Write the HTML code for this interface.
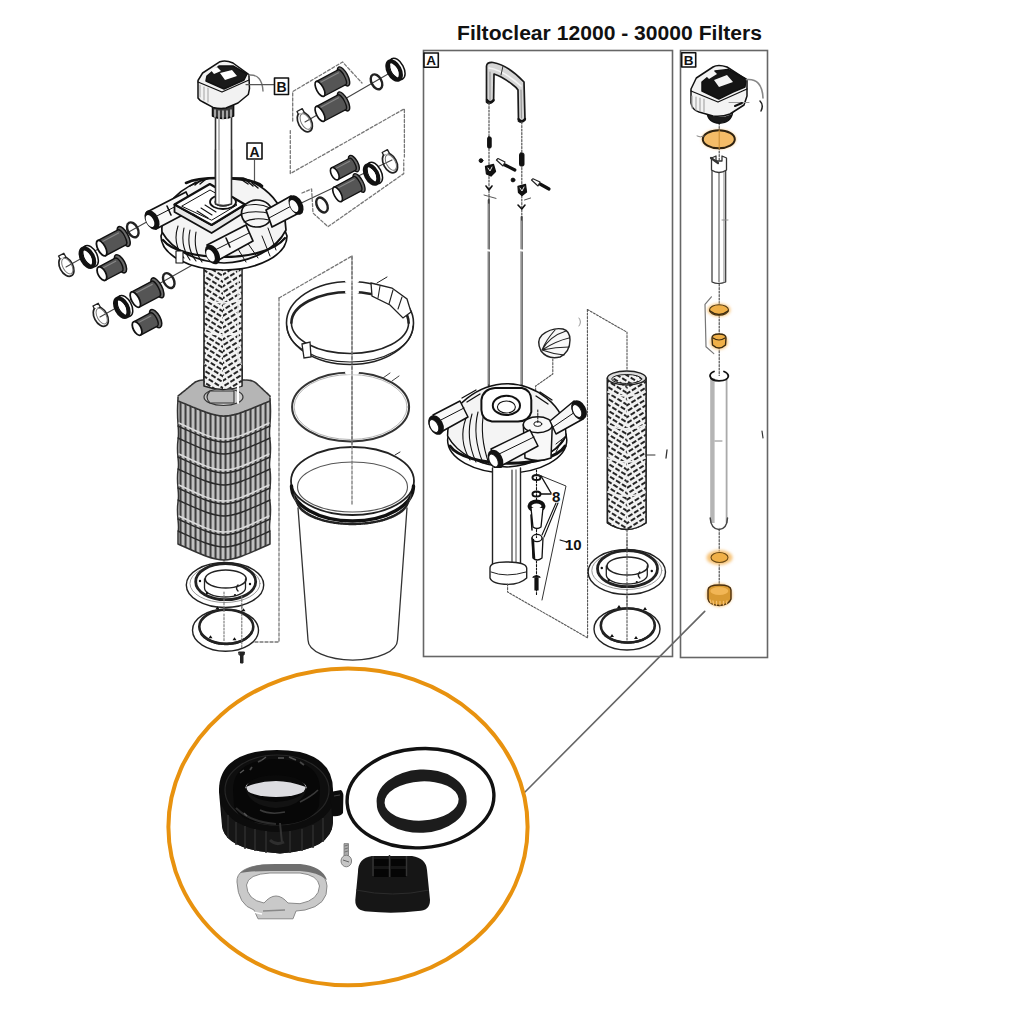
<!DOCTYPE html>
<html><head><meta charset="utf-8">
<style>
html,body{margin:0;padding:0;background:#fff;width:1024px;height:1024px;overflow:hidden}
svg{display:block;position:absolute;left:0;top:0}
.t{font-family:"Liberation Sans",sans-serif}
</style></head>
<body>
<svg width="1024" height="1024" viewBox="0 0 1024 1024">
<defs>
  <pattern id="perf" width="7" height="5" patternUnits="userSpaceOnUse" patternTransform="rotate(32)">
    <rect width="7" height="5" fill="#f2f2f2"/>
    <rect x="0" y="0" width="5" height="2" fill="#262626"/>
  </pattern>
  <pattern id="perfR" width="7" height="5" patternUnits="userSpaceOnUse" patternTransform="rotate(-32)">
    <rect width="7" height="5" fill="#f2f2f2"/>
    <rect x="0" y="0" width="5" height="2" fill="#262626"/>
  </pattern>
  <pattern id="rib" width="5" height="10" patternUnits="userSpaceOnUse">
    <rect width="5" height="10" fill="#828282"/>
    <rect x="0" width="1.1" height="10" fill="#3f3f3f"/>
    <rect x="2.2" width="1.6" height="10" fill="#cfcfcf"/>
  </pattern>
</defs>
<rect width="1024" height="1024" fill="#fff"/>
<text class="t" x="457" y="40" font-size="20" font-weight="bold" fill="#111" textLength="305" lengthAdjust="spacingAndGlyphs">Filtoclear 12000 - 30000 Filters</text>
<rect x="423.5" y="50.5" width="249" height="606" fill="none" stroke="#666" stroke-width="1.6"/>
<rect x="680.5" y="50.5" width="87" height="607" fill="none" stroke="#666" stroke-width="1.6"/>
<g id="left" stroke-linejoin="round" stroke-linecap="round">
<g fill="none" stroke="#777" stroke-width="1.3" stroke-dasharray="3,2">
  <polyline points="279,298 352,256 352,450"/>
  <polyline points="279,298 279,642 223,642"/>
  <polyline points="292.7,121 292.7,91.6 342.6,62 362,83"/>
  <polyline points="290.3,130.6 290.3,173.6 404.4,108.75 404.4,157"/>
  <polyline points="302,193 311.6,189 313,213 328,226.7 403.75,173.6 403.75,160"/>
  <line x1="224" y1="418" x2="224" y2="640"/>
  <line x1="241.8" y1="570" x2="241.8" y2="650"/>
</g>
<g stroke="#444" stroke-width="1.1" fill="none">
<line x1="66" y1="267" x2="152" y2="219"/>
<line x1="100" y1="317" x2="212" y2="254"/>
<line x1="305" y1="122" x2="395" y2="70"/>
<line x1="295" y1="206" x2="392" y2="160"/>
</g>
<g transform="translate(66.4,266.6) rotate(-28)"><ellipse rx="6.5" ry="10.5" fill="none" stroke="#222" stroke-width="1.7"/><ellipse cx="1" rx="4.5" ry="8.5" fill="none" stroke="#777" stroke-width="1"/><path d="M-2,-10 L-2,-13 L4,-13 L4,-9" fill="#fff" stroke="#222" stroke-width="1.3"/></g>
<g transform="translate(88.3,257.2) rotate(-28)"><ellipse cx="2.5" rx="6.5" ry="11.5" fill="#fff" stroke="#111" stroke-width="1.5"/><path d="M3,-11 L-1,-11" stroke="#111" stroke-width="1.2"/><ellipse cx="-1" rx="5.5" ry="10" fill="none" stroke="#111" stroke-width="4.2"/><ellipse cx="-0.5" rx="3" ry="6" fill="#fff" stroke="none"/></g>
<g transform="translate(114,241.6) rotate(-28)"><ellipse cx="11.0" cy="0" rx="4.5" ry="11.0" fill="#6a6a6a" stroke="#111" stroke-width="1.5"/><path d="M-14.0,-8.5 L9.0,-8.5 A3,8.5 0 0 1 9.0,8.5 L-14.0,8.5 Z" fill="#555" stroke="#111" stroke-width="1.4"/><line x1="-11.0" y1="-5.5" x2="8.0" y2="-5.5" stroke="#888" stroke-width="1.2"/><ellipse cx="-14.0" cy="0" rx="3.8" ry="8.5" fill="#fff" stroke="#111" stroke-width="1.8"/></g>
<g transform="translate(132.8,229.8) rotate(-28)"><ellipse rx="5" ry="8" fill="none" stroke="#222" stroke-width="2.4"/></g>
<g transform="translate(112.5,268) rotate(-28)"><ellipse cx="9.0" cy="0" rx="4.5" ry="10.0" fill="#6a6a6a" stroke="#111" stroke-width="1.5"/><path d="M-12.0,-7.5 L7.0,-7.5 A3,7.5 0 0 1 7.0,7.5 L-12.0,7.5 Z" fill="#555" stroke="#111" stroke-width="1.4"/><line x1="-9.0" y1="-4.5" x2="6.0" y2="-4.5" stroke="#888" stroke-width="1.2"/><ellipse cx="-12.0" cy="0" rx="3.8" ry="7.5" fill="#fff" stroke="#111" stroke-width="1.8"/></g>
<g transform="translate(100.8,316.6) rotate(-28)"><ellipse rx="6.5" ry="10.5" fill="none" stroke="#222" stroke-width="1.7"/><ellipse cx="1" rx="4.5" ry="8.5" fill="none" stroke="#777" stroke-width="1"/><path d="M-2,-10 L-2,-13 L4,-13 L4,-9" fill="#fff" stroke="#222" stroke-width="1.3"/></g>
<g transform="translate(122.7,307.2) rotate(-28)"><ellipse cx="2.5" rx="6.5" ry="11.5" fill="#fff" stroke="#111" stroke-width="1.5"/><path d="M3,-11 L-1,-11" stroke="#111" stroke-width="1.2"/><ellipse cx="-1" rx="5.5" ry="10" fill="none" stroke="#111" stroke-width="4.2"/><ellipse cx="-0.5" rx="3" ry="6" fill="#fff" stroke="none"/></g>
<g transform="translate(147.7,293) rotate(-28)"><ellipse cx="11.0" cy="0" rx="4.5" ry="11.0" fill="#6a6a6a" stroke="#111" stroke-width="1.5"/><path d="M-14.0,-8.5 L9.0,-8.5 A3,8.5 0 0 1 9.0,8.5 L-14.0,8.5 Z" fill="#555" stroke="#111" stroke-width="1.4"/><line x1="-11.0" y1="-5.5" x2="8.0" y2="-5.5" stroke="#888" stroke-width="1.2"/><ellipse cx="-14.0" cy="0" rx="3.8" ry="8.5" fill="#fff" stroke="#111" stroke-width="1.8"/></g>
<g transform="translate(168.75,280.6) rotate(-28)"><ellipse rx="5" ry="8" fill="none" stroke="#222" stroke-width="2.4"/></g>
<g transform="translate(147.7,322.8) rotate(-28)"><ellipse cx="9.0" cy="0" rx="4.5" ry="10.0" fill="#6a6a6a" stroke="#111" stroke-width="1.5"/><path d="M-12.0,-7.5 L7.0,-7.5 A3,7.5 0 0 1 7.0,7.5 L-12.0,7.5 Z" fill="#555" stroke="#111" stroke-width="1.4"/><line x1="-9.0" y1="-4.5" x2="6.0" y2="-4.5" stroke="#888" stroke-width="1.2"/><ellipse cx="-12.0" cy="0" rx="3.8" ry="7.5" fill="#fff" stroke="#111" stroke-width="1.8"/></g>
<g transform="translate(333,82) rotate(-28) scale(0.92)"><ellipse cx="13.0" cy="0" rx="4.5" ry="11.5" fill="#6a6a6a" stroke="#111" stroke-width="1.5"/><path d="M-16.0,-9.0 L11.0,-9.0 A3,9.0 0 0 1 11.0,9.0 L-16.0,9.0 Z" fill="#555" stroke="#111" stroke-width="1.4"/><line x1="-13.0" y1="-6.0" x2="10.0" y2="-6.0" stroke="#888" stroke-width="1.2"/><ellipse cx="-16.0" cy="0" rx="3.8" ry="9.0" fill="#fff" stroke="#111" stroke-width="1.8"/></g>
<g transform="translate(333,107) rotate(-28) scale(0.92)"><ellipse cx="13.0" cy="0" rx="4.5" ry="11.5" fill="#6a6a6a" stroke="#111" stroke-width="1.5"/><path d="M-16.0,-9.0 L11.0,-9.0 A3,9.0 0 0 1 11.0,9.0 L-16.0,9.0 Z" fill="#555" stroke="#111" stroke-width="1.4"/><line x1="-13.0" y1="-6.0" x2="10.0" y2="-6.0" stroke="#888" stroke-width="1.2"/><ellipse cx="-16.0" cy="0" rx="3.8" ry="9.0" fill="#fff" stroke="#111" stroke-width="1.8"/></g>
<g transform="translate(304.8,122) rotate(-28)"><ellipse rx="6.5" ry="10.5" fill="none" stroke="#222" stroke-width="1.7"/><ellipse cx="1" rx="4.5" ry="8.5" fill="none" stroke="#777" stroke-width="1"/><path d="M-2,-10 L-2,-13 L4,-13 L4,-9" fill="#fff" stroke="#222" stroke-width="1.3"/></g>
<g transform="translate(376.5,81.8) rotate(-28)"><ellipse rx="5" ry="8" fill="none" stroke="#222" stroke-width="2.4"/></g>
<g transform="translate(395,70) rotate(-28)"><ellipse cx="2.5" rx="6.5" ry="11.5" fill="#fff" stroke="#111" stroke-width="1.5"/><path d="M3,-11 L-1,-11" stroke="#111" stroke-width="1.2"/><ellipse cx="-1" rx="5.5" ry="10" fill="none" stroke="#111" stroke-width="4.2"/><ellipse cx="-0.5" rx="3" ry="6" fill="#fff" stroke="none"/></g>
<g transform="translate(322,205) rotate(-28)"><ellipse rx="5" ry="8" fill="none" stroke="#222" stroke-width="2.4"/></g>
<g transform="translate(349.5,188) rotate(-28) scale(0.9)"><ellipse cx="12.0" cy="0" rx="4.5" ry="11.5" fill="#6a6a6a" stroke="#111" stroke-width="1.5"/><path d="M-15.0,-9.0 L10.0,-9.0 A3,9.0 0 0 1 10.0,9.0 L-15.0,9.0 Z" fill="#555" stroke="#111" stroke-width="1.4"/><line x1="-12.0" y1="-6.0" x2="9.0" y2="-6.0" stroke="#888" stroke-width="1.2"/><ellipse cx="-15.0" cy="0" rx="3.8" ry="9.0" fill="#fff" stroke="#111" stroke-width="1.8"/></g>
<g transform="translate(345.5,168) rotate(-28) scale(0.9)"><ellipse cx="10.5" cy="0" rx="4.5" ry="10.0" fill="#6a6a6a" stroke="#111" stroke-width="1.5"/><path d="M-13.5,-7.5 L8.5,-7.5 A3,7.5 0 0 1 8.5,7.5 L-13.5,7.5 Z" fill="#555" stroke="#111" stroke-width="1.4"/><line x1="-10.5" y1="-4.5" x2="7.5" y2="-4.5" stroke="#888" stroke-width="1.2"/><ellipse cx="-13.5" cy="0" rx="3.8" ry="7.5" fill="#fff" stroke="#111" stroke-width="1.8"/></g>
<g transform="translate(372.5,174) rotate(-28)"><ellipse cx="2.5" rx="6.5" ry="11.5" fill="#fff" stroke="#111" stroke-width="1.5"/><path d="M3,-11 L-1,-11" stroke="#111" stroke-width="1.2"/><ellipse cx="-1" rx="5.5" ry="10" fill="none" stroke="#111" stroke-width="4.2"/><ellipse cx="-0.5" rx="3" ry="6" fill="#fff" stroke="none"/></g>
<g transform="translate(390,163) rotate(-28)"><ellipse rx="6.5" ry="10.5" fill="none" stroke="#222" stroke-width="1.7"/><ellipse cx="1" rx="4.5" ry="8.5" fill="none" stroke="#777" stroke-width="1"/><path d="M-2,-10 L-2,-13 L4,-13 L4,-9" fill="#fff" stroke="#222" stroke-width="1.3"/></g>  <!-- vertical pipe from head to lid -->
  <rect x="215.5" y="112" width="16" height="96" fill="#fff" stroke="#333" stroke-width="1.6"/>
  <line x1="219" y1="114" x2="219" y2="206" stroke="#aaa" stroke-width="1.2"/>
  <!-- head unit -->
  <g stroke="#111" stroke-width="1.5">
    <path d="M212.5,106 L212.5,116 Q222,121 233.6,116 L233.6,104 Z" fill="#3a3a3a"/>
    <path d="M215,110 L215,117 M219,111 L219,119 M223,111 L223,119.5 M227,111 L227,119 M231,110 L231,117" stroke="#ddd" stroke-width="1.3"/>
    <path d="M198,80.5 L198,98 Q200,101 203,102 L213,107.4 Q220,109 226,108 L238,103 L248.3,94.5 L249.5,88.7 L248.9,74.6 L233,63 Q226,60 220,61.7 L202.6,73 Z" fill="#f2f2f2"/>
    <path d="M207,76 L219,66 L233,66 L247,74 L244,80 L224,89 L206,81 Z" fill="#1a1a1a"/>
    <path d="M220,73 L232,70 L237,76 L225,80 Z M210.8,70 L217,67 L221,71 L214,74 Z" fill="#fff" stroke="none"/>
    <path d="M198,82 L222,92 L249,80" fill="none" stroke-width="1.3"/>
    <path d="M200,85 L200,97 M204,87 L204,100 M208,88 L208,102" stroke="#aaa" stroke-width="1.1"/>
    <path d="M249,75 Q262,74 263,91" fill="none" stroke="#777" stroke-width="1.4"/>
  </g>
  <line x1="246" y1="84.6" x2="274" y2="84.6" stroke="#555" stroke-width="1.2"/>
  <rect x="274.5" y="78" width="14" height="16.5" fill="#fff" stroke="#111" stroke-width="1.6"/>
  <text class="t" x="281.5" y="91.5" font-size="14" font-weight="bold" text-anchor="middle" fill="#111">B</text>
  <rect x="247" y="143" width="15" height="16" fill="#fff" stroke="#111" stroke-width="1.6"/>
  <text class="t" x="254.5" y="156.5" font-size="14" font-weight="bold" text-anchor="middle" fill="#111">A</text>
  <line x1="254.5" y1="160" x2="254.5" y2="192" stroke="#555" stroke-width="1.2"/>

  <!-- perforated column -->
  <rect x="204" y="266" width="38" height="124" fill="url(#perf)" stroke="#222" stroke-width="1.6"/>
  <rect x="223" y="267" width="18.2" height="122" fill="url(#perfR)"/>
  <g stroke="#f4f4f4" stroke-width="1.6" fill="none"><path d="M205,300 Q223,306 241,300"/><path d="M205,332 Q223,338 241,332"/><path d="M205,364 Q223,370 241,364"/></g>
  <line x1="238" y1="268" x2="238" y2="388" stroke="#eee" stroke-width="1.5"/>

  <!-- lid -->
  <g stroke="#111" stroke-width="1.7" stroke-linejoin="round">
    <path d="M161,236 A63,34 0 0 0 287,236 L284,228 A60,30 0 0 1 164,228 Z" fill="#fff"/>
    <path d="M162,232 C160,205 180,186 210,178 L243,178 C266,186 286,205 286,230 C276,250 250,262 224,263 C196,262 172,250 162,232 Z" fill="#f4f4f4"/>
    <path d="M163,240 C180,262 264,264 285,238" fill="none" stroke-width="2.2"/>
    <path d="M186,183 C200,176 250,176 262,186" fill="none" stroke-width="2.6"/>
    <path d="M190,186 L196,182 M195,185 L201,180 M200,184 L206,179 M242,180 L248,184 M247,181 L253,186 M252,183 L258,188" stroke-width="1.4"/>
    <path d="M178,226 Q172,244 184,258 M184,228 Q180,246 190,260 M190,230 Q186,248 196,261 M196,232 Q193,250 202,262" fill="none" stroke-width="1.1"/>
    <path d="M176,251 L183,251 L183,263 L176,263 Z" fill="#fff" stroke-width="1.1"/>
    <path d="M230,236 L246,262 M240,232 L258,258 M268,228 L276,250 M262,236 L270,256" fill="none" stroke-width="1"/>
    <!-- left pipe -->
    <path d="M147,212 L186,192 L194,209 L156,229 Z" fill="#f8f8f8"/>
    <line x1="151" y1="219" x2="190" y2="199" stroke-width="1"/>
    <line x1="167" y1="206" x2="171" y2="215" stroke-width="1.6"/>
    <ellipse cx="152" cy="220" rx="6.5" ry="10.5" fill="#111" stroke="none" transform="rotate(-28 152 220)"/>
    <ellipse cx="150" cy="221" rx="3.5" ry="6.5" fill="#fff" stroke="none" transform="rotate(-28 150 221)"/>
    <!-- platform block -->
    <path d="M174.5,204.5 L174.5,212 L211.6,233 L245,212 L245,204.5 L211.6,225 Z" fill="#e8e8e8" stroke-width="1.8"/>
    <path d="M174.5,204.5 L209.8,184 L245,204.5 L211.6,225 Z" fill="#fff" stroke-width="2.2"/>
    <path d="M182,206 L210,190 L237,205 L212,220 Z" fill="none" stroke-width="1"/>
    <path d="M193,214 L204,221 M197,211 L208,218 M201,208 L212,215 M205,205 L216,212" stroke-width="1.1"/>
    <ellipse cx="223" cy="202" rx="13" ry="7" fill="#fff" stroke-width="1.8"/>
    <ellipse cx="223" cy="202" rx="8" ry="4.2" fill="none" stroke-width="1.2"/>
    <!-- knob -->
    <ellipse cx="257" cy="213.5" rx="15.5" ry="13.5" fill="#f6f6f6" stroke-width="1.7"/>
    <path d="M270,208 C262,204 250,203 242,207 M271,214 C262,211 250,211 241.5,214 M269,220 C260,218 250,219 244,222" fill="none" stroke-width="1.1"/>
    <!-- right pipe -->
    <path d="M266,210 L291,196 L299,213 L272,227 Z" fill="#f8f8f8"/>
    <line x1="269" y1="218" x2="295" y2="204" stroke-width="1"/>
    <ellipse cx="296" cy="205" rx="6.5" ry="10.5" fill="#111" stroke="none" transform="rotate(-28 296 205)"/>
    <ellipse cx="294" cy="206" rx="3.5" ry="6.5" fill="#fff" stroke="none" transform="rotate(-28 294 206)"/>
    <!-- front pipe -->
    <path d="M207,245 L246,225 L253,241 L215,262 Z" fill="#f8f8f8"/>
    <line x1="211" y1="252" x2="249" y2="233" stroke-width="1"/>
    <line x1="226" y1="238" x2="230" y2="247" stroke-width="1.6"/>
    <ellipse cx="212.5" cy="254.5" rx="6.5" ry="10.5" fill="#111" stroke="none" transform="rotate(-28 212.5 254.5)"/>
    <ellipse cx="210.5" cy="255.5" rx="3.5" ry="6.5" fill="#fff" stroke="none" transform="rotate(-28 210.5 255.5)"/>
  </g>
  <!-- pipe into lid top -->
  <path d="M215.5,150 L215.5,204 Q223,207 231.5,204 L231.5,150" fill="#fff" stroke="#333" stroke-width="1.6"/>
  <line x1="219" y1="112" x2="219" y2="204" stroke="#aaa" stroke-width="1.2"/>

  <!-- sponge stack -->
  <path d="M178,400 C176,420 180,430 178,440 C176,455 180,462 178,470 C176,485 180,493 178,502 C176,516 180,524 178,533 L178,544 C198,553 212,560 224,560 C236,560 250,553 270,544 L270,533 C268,524 272,516 270,502 C268,493 272,485 270,470 C268,462 272,455 270,440 C268,430 272,420 270,400 C250,409 236,416 224,416 C212,416 198,409 178,400 Z" fill="url(#rib)" stroke="#333" stroke-width="1.5"/>
  <g fill="none" stroke="#dcdcdc" stroke-width="1.5"><path d="M179,423 C198,432 212,439 224,439 C236,439 250,432 269,423"/><path d="M179,454 C198,463 212,470 224,470 C236,470 250,463 269,454"/><path d="M179,485 C198,494 212,501 224,501 C236,501 250,494 269,485"/><path d="M179,516 C198,525 212,532 224,532 C236,532 250,525 269,516"/></g>
  <g fill="none" stroke="#2a2a2a" stroke-width="1.4"><path d="M178,426 C198,435 212,442 224,442 C236,442 250,435 270,426"/><path d="M178,438 C198,447 212,454 224,454 C236,454 250,447 270,438"/><path d="M178,457 C198,466 212,473 224,473 C236,473 250,466 270,457"/><path d="M178,469 C198,478 212,485 224,485 C236,485 250,478 270,469"/><path d="M178,488 C198,497 212,504 224,504 C236,504 250,497 270,488"/><path d="M178,500 C198,509 212,516 224,516 C236,516 250,509 270,500"/><path d="M178,519 C198,528 212,535 224,535 C236,535 250,528 270,519"/><path d="M178,531 C198,540 212,547 224,547 C236,547 250,540 270,531"/></g>
  <path d="M178,396 L194,383 Q198,380 204,380 L246,380 Q252,380 256,383 L270,396 L270,401 C250,409 236,416 224,416 C212,416 198,409 178,401 Z" fill="#b5b5b5" stroke="#333" stroke-width="1.6" stroke-dasharray="2.5,1"/>
  <ellipse cx="223.5" cy="397" rx="19.5" ry="8.5" fill="#c8c8c8" stroke="#333" stroke-width="1.2"/>
  <path d="M210,391 Q204,397 210,403 L234,403 L234,391 Z" fill="#bbb" stroke="#333" stroke-width="1.1"/>
  <path d="M204,366 L204,386 Q223,393 242,386 L242,366" fill="url(#perf)" stroke="#222" stroke-width="1.6"/><rect x="205" y="364" width="18" height="4" fill="url(#perf)"/><rect x="223" y="364" width="18" height="4" fill="url(#perfR)"/><path d="M223,366 L223,389 Q232,389 241.2,386 L241.2,366 Z" fill="url(#perfR)"/>
  <line x1="238" y1="386" x2="238" y2="403" stroke="#fff" stroke-width="2"/>

  <!-- base ring -->
  <g stroke="#222" fill="none">
    <ellipse cx="225" cy="585" rx="38.7" ry="22.5" stroke-width="1.4" fill="#fff"/>
    <ellipse cx="225" cy="583.5" rx="35" ry="19" stroke="#999" stroke-width="1"/>
    <ellipse cx="225.7" cy="581.7" rx="30" ry="18" stroke-width="2.8"/>
    <path d="M204.5,579 L204.5,588 A20.5,9 0 0 0 245.5,588 L245.5,579" stroke-width="1.3"/>
    <ellipse cx="225.7" cy="579" rx="20.5" ry="9" stroke-width="1.6"/>
    <g fill="#111" stroke="none"><circle cx="200" cy="581" r="1.2"/><circle cx="250" cy="584" r="1.2"/><circle cx="207" cy="593" r="1.2"/><circle cx="235" cy="595" r="1.1"/></g>
    <path d="M238,591 q-3,-3 0,-6" stroke-width="1.4"/>
  </g>
  <g stroke="#222" fill="none">
    <ellipse cx="225.5" cy="630.3" rx="33" ry="21" stroke-width="1.4" fill="#fff"/>
    <ellipse cx="226.3" cy="626.8" rx="27" ry="17" stroke-width="2.6"/>
    <path d="M201.5,634.3 A27,17 0 0 0 251.5,632.3" stroke-width="2.4" stroke-dasharray="2,1.2"/>
    <g fill="#111" stroke="none"><path d="M215.5,609.3 l2,-3 l2,3z M241.5,611.3 l2,-3 l2,3z M208.5,638.3 l2,-3 l2,3z M232.5,640.3 l2,-3 l2,3z"/></g>
  </g>
  <g fill="none" stroke="#777" stroke-width="1.1" stroke-dasharray="2,1.5"><line x1="224" y1="592" x2="224" y2="612"/><line x1="241.8" y1="596" x2="241.8" y2="610"/><line x1="224" y1="614" x2="224" y2="642"/><line x1="241.8" y1="614" x2="241.8" y2="648"/></g>
  <path d="M239,652 L244.5,652 L244,655 L243,655 L243,663 L240.5,663 L240.5,655 L239.5,655 Z" fill="#222" stroke="#222" stroke-width="1"/>
</g>

<g id="mid" fill="none" stroke-linecap="round">
  <!-- clamp ring -->
  <g stroke="#222">
    <ellipse cx="350" cy="323" rx="63.5" ry="41.5" stroke-width="1.6"/>
    <path d="M291.4,322.75 A58.6,30.75 0 0 1 408.6,322.75" stroke-width="2.6"/>
    <path d="M291.4,322.75 A58.6,30.75 0 0 0 408.6,322.75" stroke-width="1.6"/>
    <path d="M287,326 A63,36 0 0 0 413,326" stroke-width="1.2"/>
    <path d="M371,283 L392,288 L407,299 L411,312 L403,318 L390,305 L372,296 Z" fill="#fff" stroke-width="1.3"/>
    <path d="M380,286 L378,298 M393,290 L389,304 M402,297 L398,309" stroke-width="1.1"/>
    <path d="M377,283 L387,277" stroke-width="1"/>
    <path d="M302,344 L310,342 L311,357 L304,358 Z" fill="#fff" stroke-width="1.3"/>
  </g>
  <!-- o-ring -->
  <ellipse cx="350.6" cy="407" rx="58.5" ry="34.5" stroke="#333" stroke-width="2"/>
  <ellipse cx="350.6" cy="407" rx="56.5" ry="32.5" stroke="#aaa" stroke-width="0.9"/>
  <path d="M383,378 L390,373 M392,381 L399,376" stroke="#444" stroke-width="1"/>
  <g stroke="#fff" stroke-width="4">
    <line x1="347" y1="281" x2="357" y2="281"/><line x1="347" y1="292" x2="357" y2="292"/>
    <line x1="347" y1="372.5" x2="357" y2="372.5"/>
    <line x1="347" y1="447" x2="357" y2="447"/>
  </g>
  <!-- tub -->
  <g stroke="#333" fill="none">
    <path d="M298,508 L308,640 A44.5,20 0 0 0 397.5,640 L407,508" fill="#fff" stroke-width="1.3"/>
    <path d="M291,481 L291.5,488 A61,36 0 0 0 413.5,488 L414,481 Z" fill="#fff" stroke="none"/>
    <ellipse cx="352.5" cy="481" rx="61.5" ry="34" stroke="#222" stroke-width="1.8" fill="#fff"/>
    <ellipse cx="352.5" cy="487" rx="55" ry="25" stroke-width="1.1" stroke="#555"/>
    <path d="M291.5,486 A61,35 0 0 0 413.5,486" stroke="#111" stroke-width="3.4"/>
    <path d="M294,494 A58.5,30 0 0 0 411,494" stroke="#444" stroke-width="1.2"/>
    <path d="M297,500 A55.5,24 0 0 0 408,500" stroke="#222" stroke-width="2.4" stroke-dasharray="1.3,1.1"/>
  </g>
  <line x1="395" y1="455" x2="400" y2="452" stroke="#333" stroke-width="1"/>
  <line x1="352" y1="256" x2="352" y2="505" stroke="#fff" stroke-width="0"/>
  <g stroke="#777" stroke-width="1.3" stroke-dasharray="3,2">
    <line x1="352" y1="256" x2="352" y2="505"/>
  </g>
</g>

<g id="boxA" stroke-linejoin="round" stroke-linecap="round">
  <rect x="424" y="53" width="14.3" height="14.3" fill="#fff" stroke="#111" stroke-width="1.6"/>
  <text class="t" x="431.2" y="65" font-size="13.5" font-weight="bold" text-anchor="middle" fill="#111">A</text>
  <!-- handle -->
  <path d="M486.5,102 L486.5,66 Q487,62 493,62.5 Q508,65 524,82 L525,120 Q522,123.5 518.5,121 L518,90 Q516,87 513,85 Q503,77 494,74 L493.6,101 Q490,105 486.5,102 Z" fill="#d6d6d6" stroke="#1a1a1a" stroke-width="1.7"/>
  <path d="M489,68 Q503,70 521,86" fill="none" stroke="#f4f4f4" stroke-width="1.6"/>
  <path d="M490,72 L490,100 M521,90 L521.5,118" stroke="#999" stroke-width="1.2"/>
  <path d="M503,66 L501,75" stroke="#333" stroke-width="1"/>
  <path d="M487,100 Q490,104 493.6,100 M518.5,119 Q522,123 525,119" fill="none" stroke="#111" stroke-width="2.2"/>
  <!-- dashed rod continuations -->
  <g stroke="#555" stroke-width="1.2" stroke-dasharray="2,1.5" fill="none">
    <line x1="489" y1="103" x2="489" y2="200"/>
    <line x1="521.8" y1="122" x2="521.8" y2="217"/>
    <line x1="489" y1="455" x2="489" y2="470"/>
  </g>
  <!-- small parts on rods -->
  <g fill="#111" stroke="#111">
    <rect x="487.6" y="137" width="3.6" height="11" rx="1.2"/>
    <rect x="519.5" y="153" width="4.5" height="13" rx="1.5"/>
    <circle cx="481" cy="160.6" r="1.9"/>
    <circle cx="513" cy="180" r="1.9"/>
    <path d="M485.5,166.5 L493.5,164.5 L495.5,171.5 L491,176 L486.5,174 Z" stroke-width="1.3"/><path d="M488,168 L490,171 L492,167" fill="none" stroke="#fff" stroke-width="0.9"/>
    <path d="M518,186.5 L525.5,184.5 L526.5,192 L522,195.5 L518.5,192.5 Z" stroke-width="1.3"/><path d="M520,188 L522,191 L524,187" fill="none" stroke="#fff" stroke-width="0.9"/>
    <path d="M505,165 L514.8,170" stroke-width="3.2"/>
    <path d="M540,184 L549,189" stroke-width="3.2"/>
    <path d="M486,186 L489,190 L492,186" fill="none" stroke-width="1.6"/>
    <path d="M518,205 L521.8,209 L525,205" fill="none" stroke-width="1.6"/>
  </g>
  <g fill="#fff" stroke="#222" stroke-width="1.1">
    <path d="M496.4,160 L498,158.5 L505,162 L503,166 Z"/>
    <path d="M531.5,180 L533,178.7 L540,182 L538,186 Z"/>
  </g>
  <g stroke="#555" stroke-width="1">
    <line x1="484" y1="195" x2="496" y2="198.4"/>
    <line x1="524.5" y1="200" x2="530.6" y2="198"/>
  </g>
  <!-- rods -->
  <g stroke="#444" stroke-width="2.2">
    <line x1="488.8" y1="200" x2="488.8" y2="386"/>
    <line x1="521.7" y1="217" x2="521.7" y2="386"/>
  </g>
  <g stroke="#bbb" stroke-width="0.8">
    <line x1="488.8" y1="204" x2="488.8" y2="384"/>
    <line x1="521.7" y1="221" x2="521.7" y2="384"/>
  </g>
  <g stroke="#fff" stroke-width="2">
    <line x1="486" y1="250" x2="492" y2="251"/>
    <line x1="519" y1="250" x2="525" y2="251"/>
  </g>

  <!-- knob -->
  <path d="M541,351 Q536,341 542,335 Q552,327 563,329 Q570,331 570,340 Q570,352 560,357 Q548,360 541,351 Z" fill="#f8f8f8" stroke="#222" stroke-width="1.4"/>
  <path d="M542,350 Q550,336 566,331 M542,350 Q556,341 569,338 M542,350 Q556,347 569,347 M542,350 Q553,354 564,355 M542,350 Q546,340 555,330" fill="none" stroke="#222" stroke-width="1.1"/>
  <path d="M579,318 Q582,322 579,326" fill="none" stroke="#999" stroke-width="1"/>
  <polyline points="552.8,359 552.8,374 535.6,386 536,421.6" fill="none" stroke="#555" stroke-width="1.1" stroke-dasharray="2,1.5"/>

  <!-- lid A -->
  <g stroke="#111" stroke-width="1.5">
    <path d="M447.6,440 A59.6,33 0 0 0 566.8,440 L566,434 A59,30 0 0 1 448.4,434 Z" fill="#fff"/>
    <path d="M447.6,436 C447,405 480,384 507,383.7 C535,384 566,405 566,436 C555,455 530,466 507,467 C482,466 458,455 447.6,436 Z" fill="#f4f4f4"/>
    <path d="M450,446 C465,468 550,470 565,446" fill="none" stroke-width="3"/>
    <path d="M466,418 Q458,440 470,460 M472,414 Q465,438 476,462 M478,412 Q472,436 483,463 M484,411 Q479,436 489,464" fill="none" stroke-width="1.1"/>
    <path d="M462,398 L476,390 M467,402 L480,394 M540,392 L552,400 M536,396 L548,404" stroke-width="1.3"/>
    <path d="M481.4,400 Q483,389 495,388 L522,388 Q531,390 531.3,400 L531.3,412 Q529,421 518,421.6 L492,421.6 Q482,420 481.4,410 Z" fill="#fff" stroke-width="2"/>
    <ellipse cx="506.4" cy="405.4" rx="13.6" ry="9.6" fill="#fff" stroke-width="2"/>
    <ellipse cx="506.4" cy="407" rx="9" ry="6" fill="none" stroke-width="1.1"/>
    <!-- knob base cylinder -->
    <path d="M523.3,424.8 L525,458 Q538,463 551,458 L552.3,424.8" fill="#f8f8f8"/>
    <ellipse cx="537.8" cy="424.8" rx="14.5" ry="8" fill="#f8f8f8"/>
    <ellipse cx="537.8" cy="424" rx="4" ry="2.4" fill="#fff" stroke-width="1"/>
    <line x1="537.8" y1="410" x2="537.8" y2="424" stroke-width="1" stroke-dasharray="2,1.5"/>
    <path d="M556,444 L566,436 M556,452 L562,440" stroke-width="1"/>
    <!-- left pipe -->
    <path d="M433,415 L460,401 L468,417 L441,432 Z" fill="#f8f8f8"/>
    <line x1="437" y1="422" x2="464" y2="408" stroke-width="1"/>
    <ellipse cx="436" cy="425" rx="7" ry="10.5" fill="#111" stroke="none" transform="rotate(-28 436 425)"/>
    <ellipse cx="434" cy="426" rx="4" ry="7" fill="#fff" stroke-width="1" transform="rotate(-28 434 426)"/>
    <!-- right pipe -->
    <path d="M550,421 L574,401 L583,419 L556,434 Z" fill="#f8f8f8"/>
    <line x1="553" y1="427" x2="578" y2="410" stroke-width="1"/>
    <ellipse cx="579" cy="410" rx="7" ry="10.5" fill="#111" stroke="none" transform="rotate(-28 579 410)"/>
    <ellipse cx="577" cy="411" rx="4" ry="7" fill="#fff" stroke-width="1" transform="rotate(-28 577 411)"/>
    <!-- front pipe -->
    <path d="M491,449 L530,430 L538,446 L499,467 Z" fill="#f8f8f8"/>
    <line x1="495" y1="456" x2="534" y2="437" stroke-width="1"/>
    <ellipse cx="495.5" cy="459.5" rx="7" ry="10.5" fill="#111" stroke="none" transform="rotate(-28 495.5 459.5)"/>
    <ellipse cx="493.5" cy="460.5" rx="4" ry="7" fill="#fff" stroke-width="1" transform="rotate(-28 493.5 460.5)"/>
  </g>
  <!-- pipe below lid -->
  <g stroke="#222" stroke-width="1.4">
    <path d="M492.5,468 L492.5,568 L520.5,568 L520.5,468" fill="#fff"/>
    <line x1="512" y1="470" x2="512" y2="566" stroke-width="1.1"/>
    <line x1="516" y1="470" x2="516" y2="566" stroke="#888" stroke-width="1.5"/>
    <path d="M490,568 Q490,562 506,562 Q526,562 526.7,568 L526.7,578 Q520,584.4 508,584.4 Q492,584 490,578 Z" fill="#fff"/>
    <path d="M491,572 Q506,578 526,572" fill="none" stroke-width="1"/>
  </g>
  <polyline points="507.6,584 507.6,592 587.6,637.8" fill="none" stroke="#555" stroke-width="1.1" stroke-dasharray="2,1.5"/>
  <!-- small parts 8/10 -->
  <g stroke="#111" fill="none">
    <line x1="536.5" y1="470" x2="536.5" y2="595" stroke-width="1.1" stroke-dasharray="2,1.5"/>
    <ellipse cx="536.5" cy="477.5" rx="4" ry="2.6" stroke-width="2"/>
    <ellipse cx="536.5" cy="494" rx="4" ry="2.6" stroke-width="2"/>
    <ellipse cx="536.5" cy="506" rx="7" ry="4.5" stroke-width="4" fill="#fff"/>
    <path d="M531,508 L533,527 Q537,530 541,527 L543,508" stroke-width="1.3" fill="#fff"/>
    <path d="M531,515 L532,530" stroke-width="1.5"/>
    <path d="M532,538 L533,558 Q537,562 542,558 L543,538" stroke-width="1.3" fill="#fff"/>
    <path d="M533,540 Q533,545 534,558" stroke-width="2.5"/>
    <ellipse cx="537" cy="538" rx="5" ry="3.6" stroke-width="1.3"/>
    <path d="M535,578 L535,590 L538,590 L538,578 Z" fill="#111" stroke-width="1.2"/>
    <path d="M533,577 Q536.5,574 540,577 Z" fill="#111"/>
    <polyline points="539,475 566,486 542,600" stroke-width="1" stroke="#333"/>
    <line x1="541" y1="476" x2="551" y2="493" stroke-width="1.4"/>
    <line x1="541" y1="494" x2="551" y2="494" stroke-width="1.4"/>
    <line x1="542" y1="535" x2="556" y2="503" stroke-width="1.1"/>
    <line x1="544" y1="537" x2="558" y2="503" stroke-width="1.1"/>
    <line x1="560" y1="540" x2="567" y2="542" stroke-width="1.1"/>
  </g>
  <text class="t" x="552" y="502" font-size="15" font-weight="bold" fill="#111">8</text>
  <text class="t" x="565" y="550" font-size="15" font-weight="bold" fill="#111">10</text>

  <!-- perforated cylinder -->
  <g stroke="#222" stroke-width="1.4">
    <path d="M607.4,378 L607.4,523 Q626.7,536 646,523 L646,378" fill="url(#perf)"/>
    <path d="M626.7,380 L626.7,530 Q636,530 646,523 L646,378 Z" fill="url(#perfR)" stroke="none"/>
    <path d="M607.4,378 L607.4,523 Q626.7,536 646,523 L646,378" fill="none"/>
    <ellipse cx="626.7" cy="378" rx="19.3" ry="7" fill="#ddd"/>
    <ellipse cx="626.7" cy="379" rx="15" ry="4.5" fill="url(#perf)" stroke-width="1"/>
  </g>
  <g stroke="#eee" stroke-width="1.8" fill="none">
    <path d="M608,392 Q626.7,400 645,392"/>
    <path d="M608,425 Q626.7,433 645,425"/>
    <path d="M608,458 Q626.7,466 645,458"/>
    <path d="M608,492 Q626.7,500 645,492"/>
  </g>
  <line x1="646" y1="455" x2="655" y2="455" stroke="#333" stroke-width="1"/>
  <line x1="667" y1="450" x2="666" y2="458" stroke="#333" stroke-width="1.3"/>

  <!-- dashed -->
  <polyline points="587.4,309.5 627,332.2 627,371" fill="none" stroke="#555" stroke-width="1.1" stroke-dasharray="2,1.5"/>
  <line x1="587.4" y1="309.5" x2="587.6" y2="638" stroke="#555" stroke-width="1.1" stroke-dasharray="2,1.5"/>
  <line x1="627" y1="530" x2="627" y2="640" stroke="#555" stroke-width="1.1" stroke-dasharray="2,1.5"/>

  <!-- base rings -->
  <g stroke="#222" fill="none">
    <ellipse cx="626.8" cy="572" rx="38.7" ry="22.5" stroke-width="1.4" fill="#fff"/>
    <ellipse cx="626.8" cy="570.5" rx="35" ry="19" stroke="#999" stroke-width="1"/>
    <ellipse cx="627.5" cy="568.7" rx="30" ry="18" stroke-width="2.8"/>
    <path d="M606.3,566 L606.3,575 A20.5,9 0 0 0 647.3,575 L647.3,566" stroke-width="1.3"/>
    <ellipse cx="627.5" cy="566" rx="20.5" ry="9" stroke-width="1.6"/>
    <g fill="#111" stroke="none"><circle cx="601.8" cy="568" r="1.2"/><circle cx="651.8" cy="571" r="1.2"/><circle cx="608.8" cy="580" r="1.2"/><circle cx="636.8" cy="582" r="1.1"/></g>
    <path d="M639.8,578 q-3,-3 0,-6" stroke-width="1.4"/>
  </g>
  <g stroke="#222" fill="none">
    <ellipse cx="627" cy="629" rx="33" ry="21" stroke-width="1.4" fill="#fff"/>
    <ellipse cx="627.8" cy="625.5" rx="27" ry="17" stroke-width="2.6"/>
    <path d="M603,633 A27,17 0 0 0 653,631" stroke-width="2.4" stroke-dasharray="2,1.2"/>
    <g fill="#111" stroke="none"><path d="M617,608 l2,-3 l2,3z M643,610 l2,-3 l2,3z M610,637 l2,-3 l2,3z M634,639 l2,-3 l2,3z"/></g>
  </g>
  <line x1="627" y1="540" x2="627" y2="640" stroke="#555" stroke-width="1.1" stroke-dasharray="2,1.5"/>
</g>

<g id="boxB" stroke-linejoin="round" stroke-linecap="round">
  <defs>
    <filter id="glow" x="-50%" y="-50%" width="200%" height="200%"><feGaussianBlur stdDeviation="1.6"/></filter>
  </defs>
  <rect x="681.7" y="52.8" width="14" height="14.2" fill="#fff" stroke="#111" stroke-width="1.6"/>
  <text class="t" x="688.7" y="65" font-size="13.5" font-weight="bold" text-anchor="middle" fill="#111">B</text>
  <!-- dashed axis -->
  <line x1="719.2" y1="123" x2="719.2" y2="600" stroke="#444" stroke-width="1.1" stroke-dasharray="2,1.5"/>
  <!-- head B -->
  <g stroke="#111" stroke-width="1.5">
    <path d="M707,112 Q708,123 719.5,123.2 Q731,123 732.7,112 Z" fill="#1a1a1a"/>
    <path d="M709,114 Q719,119 731,114" fill="none" stroke="#eee" stroke-width="1.2"/>
    <path d="M691,89 L691,103 Q692,110 699,112 L713,116 Q722,117 730,114 L744,105 L747,96 L747,80 L727,67 Q718,64 713,67 L696.3,78 Z" fill="#f3f3f3"/>
    <path d="M702,82 L715,71 L728,69.5 L746,79 L745,87 L733,92 L718.8,99 L702,91 Z" fill="#151515"/>
    <path d="M714,80 L727,75 L733,82 L719,87 Z M705,75 L713,70 L717,74 L709,79 Z" fill="#f4f4f4" stroke="none"/>
    <path d="M691,91 L718,102 L747,89" fill="none" stroke-width="1.3"/>
    <path d="M692,96 L692,108 M696,97 L696,110 M700,98 L700,111 M704,99 L704,112" stroke="#aaa" stroke-width="1.2"/>
    <path d="M746.5,79.6 Q762,78 763,98" fill="none" stroke="#888" stroke-width="1.6"/>
    <path d="M760,101 Q764,105 761,111" fill="none" stroke="#222" stroke-width="1.5"/>
    <line x1="729" y1="102.5" x2="749" y2="102.5" stroke="#999" stroke-width="1"/>
    <path d="M735,106 L742,103" stroke-width="2"/>
  </g>
  <!-- orange o-ring -->
  <ellipse cx="718.8" cy="139.3" rx="17" ry="9.5" fill="#F7C47A" filter="url(#glow)"/>
  <ellipse cx="718.8" cy="139.3" rx="16" ry="9" fill="#F4BC68" stroke="#2e2210" stroke-width="2"/>
  <line x1="719.2" y1="130" x2="719.2" y2="149" stroke="#c98a30" stroke-width="1"/>
  <path d="M704,136 Q700,138 697,136" fill="none" stroke="#777" stroke-width="0.9"/>
  <!-- tube 1 -->
  <g stroke="#333" stroke-width="1.2">
    <path d="M712,164 L712,282 Q718,285 725.7,282 L725.7,164" fill="#fff"/>
    <line x1="719" y1="166" x2="719" y2="282" stroke="#666"/>
    <line x1="724" y1="166" x2="724" y2="282" stroke="#999"/>
    <path d="M711.5,158 L711.5,170 Q719,175 726.5,170 L726.5,158 L722,156 L722,161 L716,161 L716,156 Z" fill="#fff" stroke-width="1.3"/>
    <line x1="711" y1="158" x2="718" y2="163" stroke-width="2.2"/>
    <line x1="722" y1="220" x2="728" y2="220" stroke="#888" stroke-width="0.9"/>
  </g>
  <!-- bracket -->
  <polyline points="711.4,296.8 705,304.4 706,346.8 713.8,353.6" fill="none" stroke="#777" stroke-width="1.2"/>
  <!-- small orange ring -->
  <ellipse cx="719" cy="310" rx="11.5" ry="6.5" fill="#F7C47A" filter="url(#glow)"/>
  <ellipse cx="719" cy="310" rx="9.5" ry="5.3" fill="#F0B048" stroke="#4a3512" stroke-width="1.1"/>
  <path d="M710,311 Q719,318 728,311" fill="none" stroke="#3a2a10" stroke-width="1.5"/>
  <!-- orange clip -->
  <ellipse cx="719" cy="342" rx="9" ry="7.5" fill="#F7C47A" filter="url(#glow)"/>
  <path d="M712,338 Q712,334 719,334 Q726,334 726,338 L725.5,345 Q719,351 712.5,345 Z" fill="#F0B048" stroke="#3a2a10" stroke-width="1.4"/>
  <path d="M713,338 Q719,342 725,338" fill="none" stroke="#3a2a10" stroke-width="1.2"/>
  <!-- tube 2 -->
  <g stroke="#333" stroke-width="1.2">
    <path d="M710.2,376 L710.2,523 Q719,533 727.5,523 L727.5,376" fill="#fff" stroke="none"/>
    <rect x="710.2" y="378" width="4.4" height="145" fill="#b5b5b5" stroke="none"/>
    <rect x="725.7" y="378" width="1.8" height="145" fill="#aaa" stroke="none"/>
    <path d="M710.2,518 Q711,529 719,529.5 Q727,529 727.5,518" fill="none" stroke="#444" stroke-width="1.5"/>
    <line x1="715" y1="441" x2="722" y2="441" stroke="#777" stroke-width="0.9"/>
  </g>
  <path d="M714,371.5 Q710,373 710,376 Q711,380.8 719,380.8 Q728,380.8 728.4,376 Q728,373 724,371.5" fill="none" stroke="#111" stroke-width="1.8"/>
  <line x1="762" y1="431" x2="763" y2="438" stroke="#333" stroke-width="1.2"/>
  <!-- orange ring bottom -->
  <ellipse cx="719.5" cy="557.5" rx="13" ry="7.5" fill="#F7C47A" filter="url(#glow)"/>
  <ellipse cx="719.5" cy="557.5" rx="8.5" ry="5" fill="#F0B048" stroke="#6a4a15" stroke-width="1.1"/>
  <!-- orange nut -->
  <ellipse cx="719.3" cy="595" rx="13" ry="11.5" fill="#F7C47A" filter="url(#glow)"/>
  <path d="M708,590 Q708,585 719.3,585 Q731,585 731,590 L731,599 Q729,605 719.3,605.5 Q709,605 708,599 Z" fill="#D99A32" stroke="#4a3010" stroke-width="1.4"/>
  <ellipse cx="719.3" cy="591" rx="9" ry="4" fill="#F2B655" stroke="none"/>
  <path d="M710,600 L711,603 M713,601 L713.5,604.5 M716.5,601.5 L716.5,605 M720,601.5 L720,605 M723.5,601.5 L723.5,605 M727,601 L726.5,604" stroke="#F5C070" stroke-width="1.3"/>
  <!-- diagonal connector -->
  <line x1="704.7" y1="611.4" x2="525" y2="792" stroke="#666" stroke-width="1.6"/>
</g>

<g id="circle" stroke-linejoin="round">
  <ellipse cx="348" cy="826.9" rx="179.6" ry="158.4" fill="none" stroke="#E8920F" stroke-width="4"/>
  <!-- big nut -->
  <g>
    <path d="M219,792 Q218,760 255,752 Q276,748 300,752 Q333,760 333,790 L333,822 Q332,850 280,853.5 Q225,850 222,826 Z" fill="#0c0c0c"/>
    <path d="M222,806 L222,826 Q225,850 280,853.5 Q332,850 333,822 L333,805 Q320,830 277,832 Q233,830 222,806 Z" fill="#161616"/>
    <g stroke="#2e2e2e" stroke-width="1.5">
      <line x1="228" y1="815" x2="228" y2="838"/><line x1="236" y1="822" x2="236" y2="845"/>
      <line x1="245" y1="826" x2="245" y2="849"/><line x1="255" y1="829" x2="255" y2="851"/>
      <line x1="266" y1="831" x2="266" y2="853"/><line x1="290" y1="831" x2="290" y2="853"/>
      <line x1="302" y1="829" x2="302" y2="851"/><line x1="313" y1="825" x2="313" y2="848"/>
      <line x1="323" y1="818" x2="323" y2="842"/>
    </g>
    <ellipse cx="277" cy="790" rx="52" ry="35" fill="#0e0e0e" stroke="#262626" stroke-width="1.2"/>
    <path d="M233,790 Q233,760 276,759 Q319,760 320,788 L319,806 Q312,824 276,825 Q238,823 234,806 Z" fill="#070707"/>
    <ellipse cx="276" cy="787.5" rx="30.5" ry="9.5" fill="#dcdce0"/>
    <path d="M246,787 Q250,776 276,775 Q302,776 306,787 Q290,781 276,781 Q260,781 246,787 Z" fill="#0a0a0a"/>
    <path d="M246,786 Q248,800 276,802 Q304,800 306,786 L306,790 Q302,806 276,808 Q250,806 246,790 Z" fill="#121212"/>
    <path d="M262,760 L266,757 M289,757 L296,760 M240,773 L244,770" stroke="#555" stroke-width="1.4"/>
    <path d="M260,810 Q270,815 285,812" stroke="#3a3a3a" stroke-width="1.5" fill="none"/>
    <path d="M280,823 L282,843" stroke="#333" stroke-width="2"/>
    <path d="M236,808 Q250,822 276,824" stroke="#2c2c2c" stroke-width="2" fill="none"/>
    <path d="M300,802 Q312,796 318,790" stroke="#3a3a3a" stroke-width="1.6" fill="none"/>
    <path d="M270,840 Q276,846 284,842" stroke="#2e2e2e" stroke-width="3" fill="none"/>
    <path d="M258,762 L262,760 M278,758 L284,758 M300,762 L304,765 M250,770 L252,767" stroke="#444" stroke-width="1.8"/>
    <path d="M244,813 L247,816" stroke="#555" stroke-width="1.5"/>
    <path d="M330,792 L341,790 Q344,792 343.3,800 L343,813 Q340,817 332,816 Z" fill="#0c0c0c"/>
    <path d="M334,796 L340,795" stroke="#444" stroke-width="1"/>
  </g>
  <!-- o-ring large -->
  <ellipse cx="420.5" cy="798.2" rx="73.5" ry="49.5" fill="none" stroke="#111" stroke-width="3.4" transform="rotate(-4 420.5 798.2)"/>
  <!-- gasket -->
  <path fill-rule="evenodd" fill="#1c1c1c" d="M376.7,801.2 A45,30.2 0 1 0 466.6,801.2 A45,30.2 0 1 0 376.7,801.2 Z M384.5,801 A37.1,19.6 0 1 0 458.7,801 A37.1,19.6 0 1 0 384.5,801 Z" transform="rotate(-3 421.6 801)"/>
  <!-- screw -->
  <g>
    <rect x="344" y="843.6" width="4.5" height="13" fill="#aaa" stroke="#777" stroke-width="0.8"/>
    <path d="M344.5,846 L348,845 M344.5,849 L348,848 M344.5,852 L348,851" stroke="#666" stroke-width="0.8"/>
    <ellipse cx="346.3" cy="861" rx="5.3" ry="5.8" fill="#c6c6c6" stroke="#777" stroke-width="0.9"/>
    <path d="M343,860 L349,862" stroke="#666" stroke-width="1"/>
  </g>
  <!-- silver clamp -->
  <g>
    <path fill-rule="evenodd" fill="#c9c9c9" stroke="#8a8a8a" stroke-width="1"
      d="M237,882 Q236,868 262,865 L300,865 Q325,868 327,886 Q328,905 305,910 L296,911 L293,918.8 L258,918.8 L254,910 Q238,905 237,882 Z
         M246.5,885 Q248,874 270,873 L300,873 Q318,875 319.5,886 Q319,900 300,903.7 L288,903 Q282,896 276,896 Q270,896 264,903 Q247,900 246.5,885 Z"/>
    <path d="M240,873 Q250,864 275,864 L300,864 Q322,866 327,880 Q318,872 300,871 L270,871 Q250,871 240,873 Z" fill="#6f6f6f"/>
    <path d="M263,911 L285,910" stroke="#888" stroke-width="1.3"/>
    <path d="M253,912 L262,914" stroke="#fff" stroke-width="1.5"/>
  </g>
  <!-- black block -->
  <g>
    <path d="M358,872 Q358,858 372,856 L412,856 Q426,858 427,870 L430,900 Q430,911 418,911 Q393,914 368,911.5 Q355,911 355.3,900 Z" fill="#161616"/>
    <path d="M356,890 Q393,898 429,890" stroke="#2c2c2c" stroke-width="1" fill="none"/>
    <rect x="374" y="859" width="15" height="7" fill="#050505"/>
    <rect x="391" y="859" width="15" height="7" fill="#050505"/>
    <rect x="374" y="869" width="15" height="8" fill="#050505"/>
    <rect x="391" y="869" width="15" height="8" fill="#050505"/>
    <path d="M373,856 L373,876 M389.5,855 L389.5,877 M406.5,856 L406.5,876" stroke="#333" stroke-width="1.5"/>
  </g>
</g>

</svg>
</body></html>
